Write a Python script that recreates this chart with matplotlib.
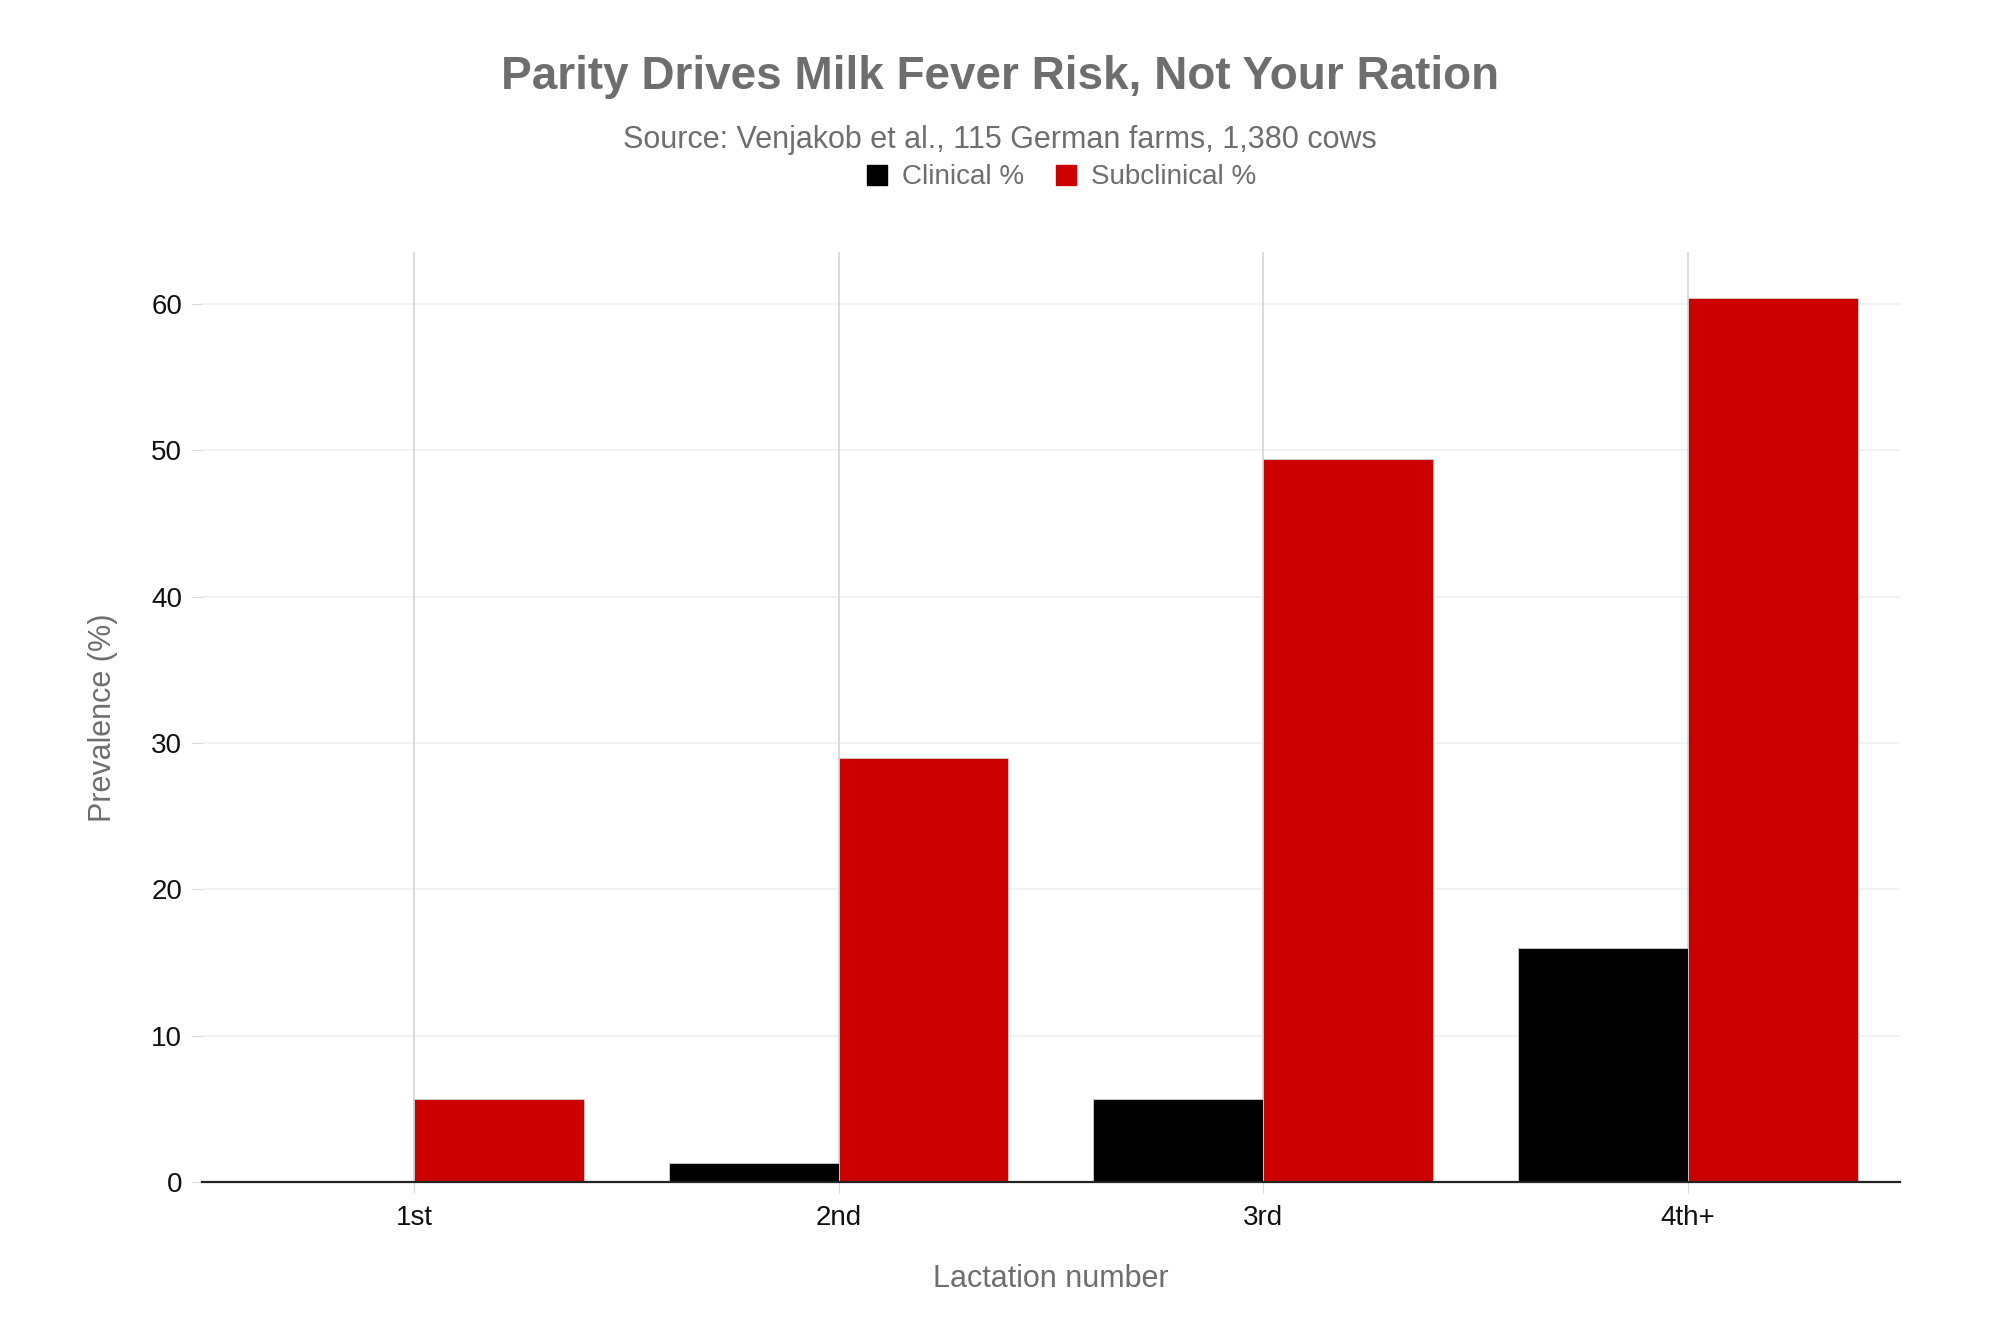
import numpy as np
import matplotlib.pyplot as plt
from matplotlib.lines import Line2D

plt.rcParams['font.family'] = ['Liberation Sans', 'DejaVu Sans']

# Data
lactations = ['1st', '2nd', '3rd', '4th+']
clinical = [0.0, 1.3, 5.7, 16.0]
subclinical = [5.7, 29.0, 49.4, 60.4]

text_grey = '#6e6e6e'
red = '#cc0000'

fig = plt.figure(figsize=(20, 13.33), dpi=100)
ax = fig.add_axes([0.1008, 0.113, 0.8492, 0.6976])

x = np.arange(len(lactations))
w = 0.4
ax.bar(x - w / 2, clinical, width=w, color='black', edgecolor='#d0d0d0', linewidth=0.6, zorder=3)
ax.bar(x + w / 2, subclinical, width=w, color=red, edgecolor='#d0d0d0', linewidth=0.6, zorder=3)

ax.set_xlim(-0.5, 3.5)
ax.set_ylim(0, 63.5)
ax.set_yticks([0, 10, 20, 30, 40, 50, 60])
ax.set_xticks(x)
ax.set_xticklabels(lactations)

# grid
for yv in [10, 20, 30, 40, 50, 60]:
    ax.axhline(yv, color='#f0f0f0', linewidth=1.2, zorder=1)
for xv in x:
    ax.axvline(xv, color='#d8d8d8', linewidth=1.3, zorder=1)

for s in ['top', 'right', 'left']:
    ax.spines[s].set_visible(False)
ax.spines['bottom'].set_color('#222222')
ax.spines['bottom'].set_linewidth(1.6)
ax.spines['bottom'].set_zorder(4)

ax.tick_params(axis='y', length=8, color='#d8d8d8', labelsize=20, labelcolor='#111111', pad=6)
ax.tick_params(axis='x', length=8, color='#d8d8d8', labelsize=20, labelcolor='#111111', pad=8)

ax.set_ylabel('Prevalence (%)', fontsize=22, color=text_grey, labelpad=24)
ax.set_xlabel('Lactation number', fontsize=22, color=text_grey, labelpad=24)

fig.text(0.5, 0.942, 'Parity Drives Milk Fever Risk, Not Your Ration', ha='center', va='center',
         fontsize=33, fontweight='bold', color=text_grey)
fig.text(0.5, 0.895, 'Source: Venjakob et al., 115 German farms, 1,380 cows', ha='center', va='center',
         fontsize=22, color=text_grey)

handles = [Line2D([], [], marker='s', linestyle='none', markersize=14, color='black'),
           Line2D([], [], marker='s', linestyle='none', markersize=14, color=red)]
fig.legend(handles, ['Clinical %', 'Subclinical %'], loc='center', bbox_to_anchor=(0.529, 0.867),
           ncol=2, frameon=False, fontsize=20, labelcolor=text_grey, handletextpad=0.3,
           columnspacing=0.9, handlelength=1.2)

fig.savefig('out.png', dpi=100, facecolor='white')
